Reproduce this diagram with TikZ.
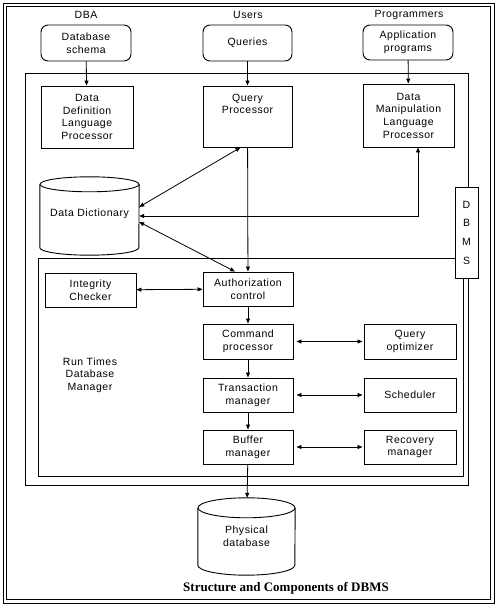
\documentclass[tikz,border=0pt]{standalone}
\usepackage{fontspec}
\setmainfont{Liberation Sans}[LetterSpace=5]
\newfontfamily\capfont{Liberation Serif}
\usetikzlibrary{calc,arrows.meta}
\def\drum(#1)(#2:#3){\draw[line width=0.9pt] ($(#1.north west)+(0,-#3)$) -- ($(#1.south west)+(0,#3)$) arc (180:360:#2pt and #3pt) -- ($(#1.north east)+(0,-#3)$);
	\draw[line width=0.9pt] ($(#1.north)+(0,-#3)$) ellipse (#2pt and #3pt);}

\begin{document}
\begin{tikzpicture}[x=1pt,y=1pt,
	txt/.style={font=\fontsize{10.5}{12.7}\selectfont, align=center},
	box/.style={txt, draw, line width=0.9pt, inner sep=2pt},
	rbox/.style={box, rounded corners=7pt},
	link/.style={line width=0.8pt, -{Triangle[length=5pt,width=4pt]}},
	both/.style={line width=0.8pt, {Triangle[length=5pt,width=4pt]}-{Triangle[length=5pt,width=4pt]}}]
			%%%%% START %%%%%
			
			\useasboundingbox (0, 0) rectangle (500, 606);
			\draw[line width=0.8pt] (3, 3) rectangle (494, 603);
			\draw[line width=0.8pt] (6.5, 6.5) rectangle (490.5, 599.5);
			
			\draw[line width=0.9pt] (25, 533) rectangle (468, 121);
			\draw[line width=0.9pt] (38, 348) rectangle (463, 130);
			\node[box, fill=white, minimum width=23, minimum height=91] (dbms) at (466.5, 373.5) {D\\[6pt]B\\[6pt]M\\[6pt]S};
			
			\node[txt] (dba) at (86, 591) {DBA};
			\node[txt] (users) at (248, 591) {Users};
			\node[txt] (progs) at (409, 591) {Programmers};
			
			\node[rbox, minimum width=90, minimum height=36] (schema) at (86, 563) {Database\\schema};
			\node[rbox, minimum width=89, minimum height=36] (queries) at (247.5, 563) {Queries};
			\node[rbox, minimum width=90, minimum height=35] (apps) at (408, 563.5) {Application\\programs};
			
			\node[box, minimum width=92, minimum height=62] (ddl) at (87, 489) {Data\\Definition\\Language\\Processor};
			\node[box, minimum width=89, minimum height=61] (qp) at (247.5, 489.5) {Query\\Processor\\\mbox{}\\\mbox{}};
			\node[box, minimum width=91, minimum height=63] (dml) at (408.5, 490.5) {Data\\Manipulation\\Language\\Processor};
			
			\node[txt, minimum width=99, minimum height=78] (dd) at (89.5, 390) {\raisebox{6pt}{Data Dictionary}};
			\drum(dd)(49.5:7.5)
			
			\node[box, minimum width=91, minimum height=34] (integ) at (90.5, 316) {Integrity\\Checker};
			\node[box, minimum width=90, minimum height=34] (auth) at (248, 317) {Authorization\\control};
			\node[box, minimum width=90, minimum height=35] (cmd) at (248, 264.5) {Command\\processor};
			\node[box, minimum width=92, minimum height=35] (opt) at (410, 264.5) {Query\\optimizer};
			\node[box, minimum width=90, minimum height=34] (trans) at (248, 211) {Transaction\\manager};
			\node[box, minimum width=92, minimum height=34] (sched) at (410, 211) {Scheduler};
			\node[box, minimum width=90, minimum height=34] (buf) at (248, 159) {Buffer\\manager};
			\node[box, minimum width=92, minimum height=34] (recov) at (410, 159) {Recovery\\manager};
			\node[txt] (rtdm) at (90, 231) {Run Times\\Database\\Manager};
			
			\node[txt, minimum width=97, minimum height=77] (phys) at (246.5, 69.5) {Physical\\database};
			\drum(phys)(48.5:10)
			
			\draw[link] (schema) -- (ddl);
			\draw[link] (queries) -- (qp);
			\draw[link] (apps) -- (dml);
			\draw[link] (qp) -- (auth);
			\draw[both] ([xshift=-7]qp.south) -- ([yshift=9]dd.east);
			\draw[both] ([xshift=9.5]dml.south) |- (dd.east);
			\draw[both] ([yshift=-6]dd.east) -- ([xshift=-13]auth.north);
			\draw[both] (integ) -- (auth);
			\draw[both, shorten <=3pt, shorten >=1pt] (cmd) -- (opt);
			\draw[both, shorten <=3pt, shorten >=1pt] (trans) -- (sched);
			\draw[both, shorten <=3pt, shorten >=1pt] (buf) -- (recov);
			\draw[link] (auth) -- (cmd);
			\draw[link] (cmd) -- (trans);
			\draw[link] (trans) -- (buf);
			\draw[link] (buf) -- (phys);
			
			\node[font=\capfont\bfseries\fontsize{13}{15}\selectfont] (caption) at (286, 18) {Structure and Components of DBMS};
			
			%%%%% END %%%%%
		\end{tikzpicture}
\end{document}
